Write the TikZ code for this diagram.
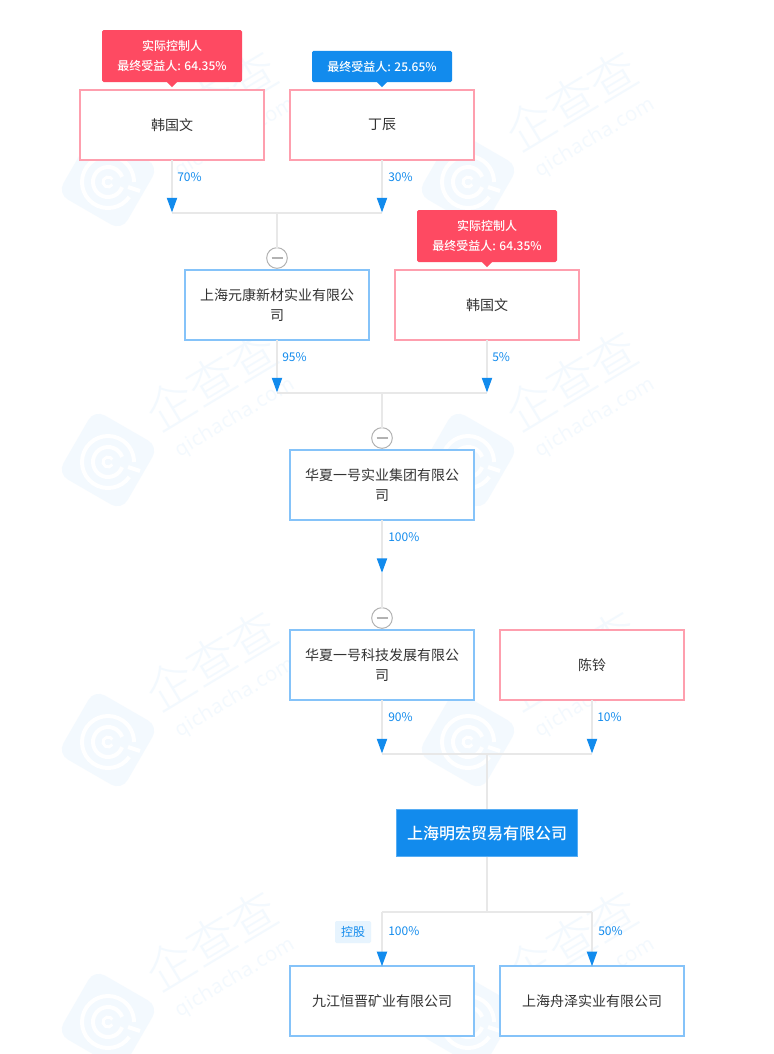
\documentclass[tikz,border=0pt]{standalone}
\usepackage{fontspec}
\setmainfont{Noto Sans CJK SC}
\IfFontExistsTF{Noto Sans CJK SC Light}{\newfontfamily\wmcjk{Noto Sans CJK SC Light}}{\newfontfamily\wmcjk{Noto Sans CJK SC}}
\IfFontExistsTF{Noto Sans CJK SC Medium}{\newfontfamily\medf{Noto Sans CJK SC Medium}}{\newfontfamily\medf{Noto Sans CJK SC}}
\newfontfamily\wmlat[LetterSpace=3]{Open Sans}
\usetikzlibrary{arrows.meta,positioning,calc}
\definecolor{pinkb}{HTML}{FE9FAE}
\definecolor{blueb}{HTML}{85C3F9}
\definecolor{redtag}{HTML}{FE4A62}
\definecolor{mainb}{HTML}{128BED}
\definecolor{linec}{HTML}{E8E8E8}
\definecolor{txt}{HTML}{333333}
\definecolor{wm}{HTML}{F3F9FE}
\definecolor{tagbg}{HTML}{E7F4FE}
\tikzset{
  x=0.75pt,y=-0.75pt,
  entity/.style={draw,line width=1.5pt,fill=white,minimum width=137.5pt,minimum height=52pt,inner sep=0pt,outer sep=0pt,align=center,text=txt,font=\fontsize{10.5pt}{15pt}\selectfont},
  person/.style={entity,draw=pinkb},
  company/.style={entity,draw=blueb},
  focus/.style={draw=blueb!60!mainb,line width=0.75pt,fill=mainb,text=white,minimum width=136pt,minimum height=35.5pt,inner sep=0pt,outer sep=0pt,font=\medf\fontsize{12pt}{14pt}\selectfont},
  tagbox/.style={rounded corners=1.2pt,text=white,minimum width=105pt,inner sep=0pt,outer sep=0pt,align=center,font=\medf\fontsize{9pt}{15pt}\selectfont},
  link/.style={draw=linec,line width=1.5pt},
  arrowlink/.style={link,-{Triangle[length=11pt,width=7.5pt,color=mainb]}},
  pct/.style={text=mainb,inner sep=0pt,anchor=west,font=\fontsize{9pt}{10pt}\selectfont},
  fold/.style={circle,draw=black!30,line width=0.75pt,fill=white,minimum size=15.5pt,inner sep=0pt,outer sep=0pt},
  hold/.style={fill=tagbg,text=mainb,rounded corners=1pt,minimum width=27pt,minimum height=16.5pt,inner sep=0pt,font=\fontsize{9pt}{10pt}\selectfont},
  mark text/.style={text=wm,inner sep=0pt,rotate=31},
}
\newcommand{\foldminus}[1]{\draw[black!30,line width=1pt] ($(#1)+(-5.5,0)$) -- ($(#1)+(5.5,0)$);}
\newcommand{\pointer}[3]{\fill[#3] ($(#1.south)+(-5,0)$) -- ($(#1.south)+(5,0)$) -- ($(#1.south)+(0,#2)$) -- cycle;}
\begin{document}
\begin{tikzpicture}
\useasboundingbox (0,0) rectangle (774,1054);
\fill[white] (0,0) rectangle (774,1054);
% watermark
\foreach \lx in {108,468}{
 \foreach \ly in {180,460,740,1020}{
  \begin{scope}[shift={(\lx,\ly)},rotate=-30]
   \fill[wm,rounded corners=9pt] (-37,-37) rectangle (37,37);
  \end{scope}
  \begin{scope}[shift={(\lx,\ly+2)}]
   \draw[white,line width=3pt] (35:26) arc (35:360:26);
   \draw[white,line width=3pt] (20:15) arc (20:340:15);
   \draw[white,line width=2.2pt] (30:5) arc (30:330:5);
   \draw[white,line width=3pt] (20,5) -- (32,9);
  \end{scope}
  \node[mark text,font=\wmcjk\fontsize{36pt}{38pt}\selectfont] (wmt\lx\ly) at (\lx+103,\ly-80) {企查查};
  \node[mark text,font=\wmlat\fontsize{15pt}{16pt}\selectfont] (wmc\lx\ly) at (\lx+127,\ly-42) {qichacha.com};
 }
}
% nodes
\node[person] (p1) at (172,125) {韩国文};
\node[person] (p2) at (382,125) {丁辰};
\node[company] (c1) at (277,305) {上海元康新材实业有限公\\司};
\node[person] (p3) at (487,305) {韩国文};
\node[company] (c2) at (382,485) {华夏一号实业集团有限公\\司};
\node[company] (c3) at (382,665) {华夏一号科技发展有限公\\司};
\node[person] (p4) at (592,665) {陈铃};
\node[focus] (m) at (487,833) {上海明宏贸易有限公司};
\node[company] (s1) at (382,1001) {九江恒晋矿业有限公司};
\node[company] (s2) at (592,1001) {上海舟泽实业有限公司};
% tags
\node[tagbox,fill=redtag,minimum height=39pt] (t1) at (172,56) {实际控制人\\最终受益人: 64.35\%};
\pointer{t1}{5}{redtag}
\node[tagbox,fill=mainb,minimum height=23.5pt] (t2) at (382,66.5) {最终受益人: 25.65\%};
\pointer{t2}{5}{mainb}
\node[tagbox,fill=redtag,minimum height=39pt] (t3) at (487,236) {实际控制人\\最终受益人: 64.35\%};
\pointer{t3}{5}{redtag}
% junctions
\coordinate (j1a) at (172,212.5); \coordinate (j1b) at (382,212.5); \coordinate (j1m) at (277,212.5);
\coordinate (j2a) at (277,392.5); \coordinate (j2b) at (487,392.5); \coordinate (j2m) at (382,392.5);
\coordinate (j3) at (382,573);
\coordinate (j4a) at (382,753.5); \coordinate (j4b) at (592,753.5); \coordinate (j4m) at (487,753.5);
\coordinate (j5a) at (382,912); \coordinate (j5b) at (592,912); \coordinate (j5m) at (487,912);
\node[fold] (f1) at (277,258) {};
\node[fold] (f2) at (382,438) {};
\node[fold] (f3) at (382,618) {};
% connectors
\draw[link] (j1a) -- (j1b);
\draw[link] (j1m) -- (f1);
\draw[arrowlink] (p1.south) -- (j1a);
\draw[arrowlink] (p2.south) -- (j1b);
\draw[link] (j2a) -- (j2b);
\draw[link] (j2m) -- (f2);
\draw[arrowlink] (c1.south) -- (j2a);
\draw[arrowlink] (p3.south) -- (j2b);
\draw[link] (j3) -- (f3);
\draw[arrowlink] (c2.south) -- (j3);
\draw[link] (j4a) -- (j4b);
\draw[arrowlink] (c3.south) -- (j4a);
\draw[arrowlink] (p4.south) -- (j4b);
\draw[link] (j4m) -- (m.north);
\draw[link] (m.south) -- (j5m);
\draw[link] (j5a) -- (j5b);
\draw[arrowlink] (j5a) -- (s1.north);
\draw[arrowlink] (j5b) -- (s2.north);
\foldminus{f1}\foldminus{f2}\foldminus{f3}
% percentages
\node[pct] (l1) at (177,177) {70\%};
\node[pct] (l2) at (388,177) {30\%};
\node[pct] (l3) at (282,357) {95\%};
\node[pct] (l4) at (492,357) {5\%};
\node[pct] (l5) at (388,537) {100\%};
\node[pct] (l6) at (388,717) {90\%};
\node[pct] (l7) at (597,717) {10\%};
\node[pct] (l8) at (388,931) {100\%};
\node[pct] (l9) at (598,931) {50\%};
\node[hold] (h) at (353,932) {控股};
\end{tikzpicture}
\end{document}
